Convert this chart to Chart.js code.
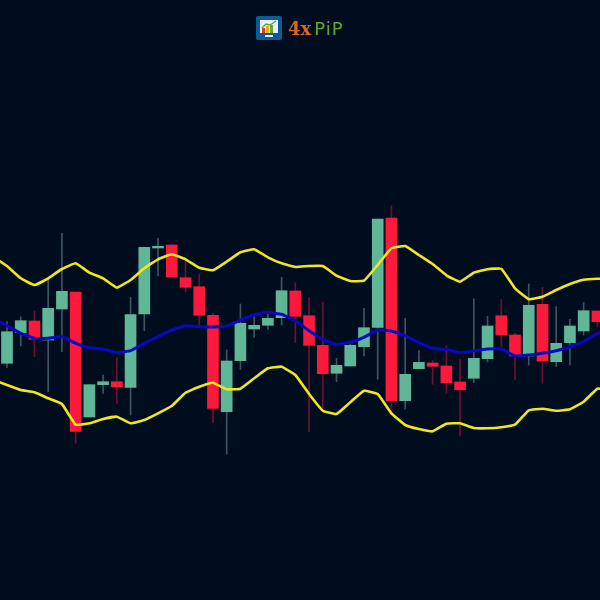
<!DOCTYPE html>
<html>
<head>
<meta charset="utf-8">
<title>4xPiP</title>
<script src="https://cdn.jsdelivr.net/npm/chart.js@4"></script>
<style>
  html, body { margin: 0; padding: 0; background: #000d1e; }
  #wrap { position: relative; width: 600px; height: 600px; overflow: hidden; }
  #logoIcon { position: absolute; left: 256px; top: 16px; }
  #logoText { position: absolute; left: 288px; top: 18px; font-size: 18px; line-height: 22px; white-space: nowrap; }
  #logoText .fx { color: #d8681f; font-family: "DejaVu Serif", serif; font-weight: bold; }
  #logoText .pip { color: #5ea82f; font-family: "DejaVu Sans", sans-serif; letter-spacing: 1px; margin-left: 3px; }
</style>
</head>
<body>
<div id="wrap">
  <canvas id="myChart" width="600" height="600" style="display:block"></canvas>
  <svg id="logoIcon" width="26" height="24" viewBox="0 0 26 24">
    <rect width="26" height="24" rx="2" fill="#0f5a96"/>
    <rect x="4" y="4" width="18" height="13" fill="#e8f0f4"/>
    <path d="M6 12 L10 8 L14 9 L20 5" stroke="#5ea82f" stroke-width="1.4" fill="none"/>
    <rect x="6" y="12" width="3" height="5" fill="#d8402a"/>
    <rect x="10" y="10" width="3" height="7" fill="#e8b020"/>
    <rect x="14" y="9" width="3" height="8" fill="#5ea82f"/>
    <rect x="9" y="19" width="8" height="2" fill="#e8f0f4"/>
  </svg>
  <div id="logoText"><span class="fx">4x</span><span class="pip">PiP</span></div>
</div>
<script>
const candleIndex = [0,1,2,3,4,5,6,7,8,9,10,11,12,13,14,15,16,17,18,19,20,21,22,23,24,25,26,27,28,29,30,31,32,33,34,35,36,37,38,39,40,41,42,43];
const openValues = [236.7,267.3,279,260,291,308,183,215.3,218.3,212.7,286,352,355,322.3,313.3,284.7,188.3,239.3,271,274.7,282.3,309,284.3,254.7,226.7,234,253.3,272.7,382,199.3,231.3,237,234,218,221.7,241.3,284.3,265,244,295.7,238.3,257.3,269,289];
const closeValues = [268.3,279.3,260.7,291.7,308.7,168.7,215.3,218.3,213,285.3,352.7,353.7,323,312.7,284.7,191.7,239,276.7,274.7,281.7,309.3,283.7,254.7,226.3,234.7,254.7,272.3,381,199.3,225.7,237.7,233.7,217.3,210.3,241.7,274,265,244,294.7,239,256.7,274,289.3,278.3];
const highValues = [278.3,283.3,289,320.7,366.7,308,215.3,225,242.3,302.7,352.7,361.7,355,338.3,326,286.7,250,296,283.3,288.3,322.7,317.3,302.3,297.7,241.7,256.7,291.7,381,394,281.7,249.3,239.3,254.3,240.7,301.3,283.7,300.7,266.7,316,312.7,293.3,280.7,297.3,289];
const lowValues = [232.7,254,243.3,208.3,248.3,156.7,183,206.7,196.7,185,269.3,324,323,308.3,275,177.3,146,230.7,262.7,270.7,275,257.3,168.3,191.7,218.3,234,244,220.7,191.7,191,231.3,215.7,206.7,164,217.3,238,253.3,220,235,216.7,233.3,235,265,273.3];

// the bands run past both edges of the picture, so they have one extra point each side
const bandIndex = [-1,0,1,2,3,4,5,6,7,8,9,10,11,12,13,14,15,16,17,18,19,20,21,22,23,24,25,26,27,28,29,30,31,32,33,34,35,36,37,38,39,40,41,42,43,44];
const upperBand = [343.3,334,321.7,315,321.7,331,336.7,327.3,321.7,312.3,320,331.7,340.7,345.7,340.7,332.3,329.7,338.3,347.7,350.7,342.7,336.7,333,334,334,324.3,319,319.3,335,351.7,354,345,336,324.7,318.3,327.3,330.7,331.3,311.7,300.7,303.3,310,316,320.3,321.3,321.3];
const middleBand = [281.7,274.3,266.7,261.7,261.7,263.3,256.7,252.3,251,247.3,249.3,256.7,263.3,270,274.3,273.3,273,274,280,285.3,287.7,285.7,279.3,269.3,260.7,255.3,257.7,262.7,270,269,264.3,257.3,251.7,250.7,247.3,249.3,251,251,244,245,246.7,249.3,253.3,258.3,266.7,268.3];
const lowerBand = [220,215,210,207.7,201.7,196,175.3,176.7,181,183.3,176.7,180,186.7,194,207.3,213.3,217.3,210.7,211.3,221.7,231.7,233.3,225,206,189.3,186,197.7,209.3,206,186.7,175,171,168.7,176.3,176.7,172,171.7,172.7,175.3,189.7,191.3,189.3,190.7,198.3,211.3,210];

const upColor = '#5fb797';
const downColor = '#fb1a3c';
const upWick = '#3c5560';
const downWick = '#6b1230';
const isUp = candleIndex.map(i => closeValues[i] >= openValues[i]);

function band(values, color, width) {
    return {
        type: 'line',
        data: bandIndex.map((x, i) => ({x: x, y: values[i]})),
        borderColor: color,
        borderWidth: width,
        pointRadius: 0,
        tension: 0.1,
        order: 1
    };
}

let ctx = document.getElementById('myChart').getContext('2d');
let myChart = new Chart(ctx, {
    type: 'bar',
    data: {
        datasets: [
            band(upperBand, '#f2e61e', 2.6),
            band(lowerBand, '#f2e61e', 2.6),
            band(middleBand, '#0808c4', 3),
            {
                data: candleIndex.map(i => ({x: i, y: [openValues[i], closeValues[i]]})),
                backgroundColor: isUp.map(u => u ? upColor : downColor),
                barThickness: 11,
                grouped: false,
                order: 2
            },
            {
                data: candleIndex.map(i => ({x: i, y: [lowValues[i], highValues[i]]})),
                backgroundColor: isUp.map(u => u ? upWick : downWick),
                barThickness: 1,
                grouped: false,
                order: 3
            }
        ]
    },
    options: {
        responsive: false,
        animation: false,
        layout: {padding: 0},
        plugins: {legend: {display: false}, tooltip: {enabled: false}},
        scales: {
            x: {type: 'linear', display: false, offset: false, min: -0.51, max: 43.19},
            y: {display: false, min: 0, max: 600}
        }
    }
});
</script>
</body>
</html>
